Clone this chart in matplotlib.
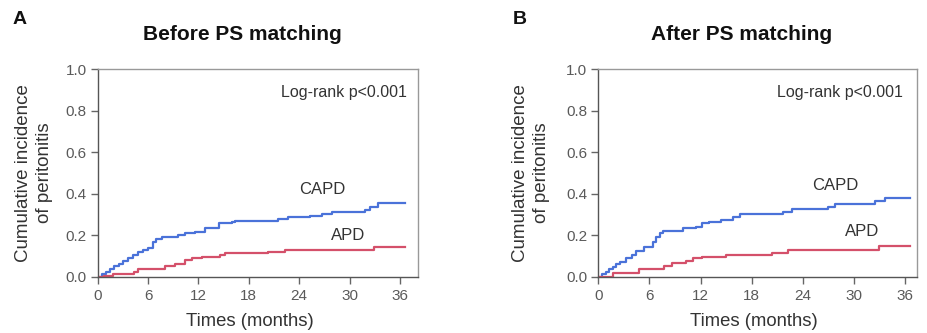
import matplotlib
matplotlib.use("Agg")
import matplotlib.pyplot as plt

# ---- data ----
xticks = [0, 6, 12, 18, 24, 30, 36]
yticks = [0.0, 0.2, 0.4, 0.6, 0.8, 1.0]

a_capd_t = [0, 0.5, 1.0, 1.5, 2.0, 2.5, 3.0, 3.6, 4.2, 4.8, 5.4, 6.0, 6.6, 7.0, 7.6, 9.6, 10.4, 11.6, 12.8, 14.4, 16.0, 16.4, 21.5, 22.7, 25.3, 26.7, 27.9, 31.8, 32.4, 33.4, 36.6]
a_capd_v = [0, 0.012, 0.025, 0.038, 0.05, 0.062, 0.075, 0.089, 0.105, 0.12, 0.13, 0.137, 0.168, 0.18, 0.193, 0.2, 0.209, 0.217, 0.233, 0.257, 0.265, 0.268, 0.276, 0.286, 0.294, 0.3, 0.31, 0.322, 0.338, 0.355, 0.355]
a_apd_t = [0, 0.8, 1.8, 4.3, 4.8, 8.0, 9.2, 10.4, 11.2, 12.4, 14.6, 15.2, 20.3, 22.3, 32.9, 36.6]
a_apd_v = [0, 0.004, 0.012, 0.024, 0.037, 0.052, 0.061, 0.08, 0.089, 0.097, 0.105, 0.112, 0.118, 0.129, 0.145, 0.145]

b_capd_t = [0, 0.4, 0.9, 1.3, 1.7, 2.1, 2.5, 3.25, 4.0, 4.4, 5.4, 6.0, 6.4, 6.8, 7.2, 7.6, 9.9, 11.5, 12.2, 13.0, 14.4, 15.8, 16.6, 21.7, 22.7, 27.0, 27.8, 32.5, 33.6, 36.6]
b_capd_v = [0, 0.012, 0.024, 0.036, 0.048, 0.06, 0.072, 0.089, 0.105, 0.124, 0.142, 0.145, 0.169, 0.193, 0.21, 0.222, 0.233, 0.241, 0.257, 0.265, 0.273, 0.289, 0.3, 0.313, 0.325, 0.337, 0.35, 0.365, 0.378, 0.378]
b_apd_t = [0, 1.7, 4.8, 7.75, 8.7, 10.3, 11.1, 12.2, 15.0, 20.35, 22.3, 32.9, 36.6]
b_apd_v = [0, 0.016, 0.037, 0.051, 0.064, 0.077, 0.089, 0.097, 0.105, 0.112, 0.129, 0.148, 0.148]

titles = ["Before PS matching", "After PS matching"]
panel_letters = ["A", "B"]
xlabel = "Times (months)"
ylabel = "Cumulative incidence\nof peritonitis"
logrank = "Log-rank p<0.001"

BLUE = "#4a72d9"
RED = "#d4506a"
GRAY = "#5a5a5a"

plt.rcParams['font.family'] = ['Liberation Sans', 'DejaVu Sans']

W, H = 927, 333
fig = plt.figure(figsize=(W / 100, H / 100), dpi=100)

def fx(px):
    return px / W

def fy(py):
    return 1 - py / H

panels = [
    dict(left=97.7, right=417.7, x36=400.0, data=(a_capd_t, a_capd_v, a_apd_t, a_apd_v),
         title_x=242, letter_x=20, ylab_x=34, xlab_x=250, lr_x=407, capd=(322, 190), apd=(348, 235)),
    dict(left=598.3, right=916.7, x36=905.0, data=(b_capd_t, b_capd_v, b_apd_t, b_apd_v),
         title_x=742, letter_x=520, ylab_x=531, xlab_x=754, lr_x=903, capd=(835, 186), apd=(862, 231)),
]

top_px, bot_px = 69.3, 276.7
for i, p in enumerate(panels):
    ax = fig.add_axes([fx(p['left']), fy(bot_px), (p['right'] - p['left']) / W, (bot_px - top_px) / H])
    ppm = (p['x36'] - p['left']) / 36.0
    ax.set_xlim(0, (p['right'] - p['left']) / ppm)
    ax.set_ylim(0, 1.0)
    ct, cv, at, av = p['data']
    ax.step(ct, cv, where='post', color=BLUE, lw=1.6)
    ax.step(at, av, where='post', color=RED, lw=1.6)
    ax.set_xticks(xticks)
    ax.set_yticks(yticks)
    ax.set_xticklabels([str(t) for t in xticks])
    ax.set_yticklabels([f"{t:.1f}" for t in yticks])
    ax.tick_params(direction='out', length=5, width=1, color='#666666', labelcolor=GRAY, labelsize=11, pad=3)
    ax.tick_params(axis='x', pad=4)
    for s in ['left', 'bottom']:
        ax.spines[s].set_color('#555555')
        ax.spines[s].set_linewidth(1.0)
    for s in ['top', 'right']:
        ax.spines[s].set_color('#999999')
        ax.spines[s].set_linewidth(1.0)

    fig.text(fx(p['title_x']), fy(35), titles[i], ha='center', va='center', fontsize=15, fontweight='bold', color='#111111')
    fig.text(fx(p['letter_x']), fy(20), panel_letters[i], ha='center', va='center', fontsize=14, fontweight='bold', color='#111111')
    fig.text(fx(p['ylab_x']), fy(173), ylabel, ha='center', va='center', rotation=90, fontsize=13.5, color='#333333', linespacing=1.35)
    fig.text(fx(p['xlab_x']), fy(322), xlabel, ha='center', va='center', fontsize=13.3, color='#333333')
    fig.text(fx(p['lr_x']), fy(92), logrank, ha='right', va='center', fontsize=11.5, color='#333333')
    fig.text(fx(p['capd'][0]), fy(p['capd'][1]), "CAPD", ha='center', va='center', fontsize=12, color='#333333')
    fig.text(fx(p['apd'][0]), fy(p['apd'][1]), "APD", ha='center', va='center', fontsize=12, color='#333333')

fig.savefig("out.png", dpi=100)
